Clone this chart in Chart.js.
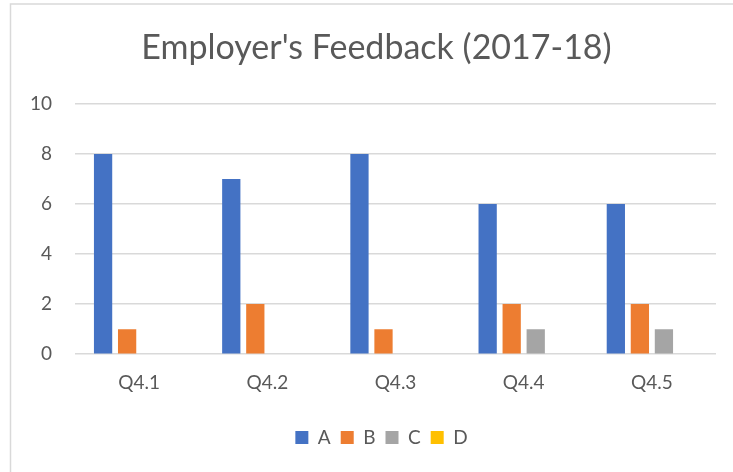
<!DOCTYPE html>
<html>
<head>
<meta charset="utf-8">
<script src="https://cdn.jsdelivr.net/npm/chart.js@4/dist/chart.umd.min.js"></script>
<style>
  html, body { margin: 0; padding: 0; background: #fff; }
  #wrap { position: absolute; left: 0; top: 0; width: 733px; height: 472px; }
</style>
</head>
<body>
<div id="wrap"><canvas id="c" width="733" height="472"></canvas></div>
<script>
const categories = ["Q4.1", "Q4.2", "Q4.3", "Q4.4", "Q4.5"];
const seriesNames = ["A", "B", "C", "D"];
const valuesA = [8, 7, 8, 6, 6];
const valuesB = [1, 2, 1, 2, 2];
const valuesC = [0, 0, 0, 1, 1];
const valuesD = [0, 0, 0, 0, 0];
const yTicks = [0, 2, 4, 6, 8, 10];
const titleText = "Employer's Feedback (2017-18)";

const colors = ["#4472C4", "#ED7D31", "#A5A5A5", "#FFC000"];
const allValues = [valuesA, valuesB, valuesC, valuesD];
const FONT = "Lato, 'Open Sans', sans-serif";
const TXT = "#595959";

const framePlugin = {
  id: 'frame',
  beforeDraw(chart) {
    const ctx = chart.ctx;
    ctx.save();
    ctx.fillStyle = '#ffffff';
    ctx.fillRect(0, 0, chart.width, chart.height);
    ctx.strokeStyle = '#d9d9d9';
    ctx.lineWidth = 1.5;
    ctx.beginPath();
    ctx.moveTo(10.5, chart.height);
    ctx.lineTo(10.5, 4);
    ctx.lineTo(chart.width, 4);
    ctx.stroke();
    ctx.restore();
  },
  afterLayout(chart) {
    // centre title and legend on the framed area like the original
    if (chart.titleBlock) { chart.titleBlock.left += 15; chart.titleBlock.right += 15; }
    if (chart.legend) {
      chart.legend.left += 20; chart.legend.right += 20;
      chart.legend.top += 15; chart.legend.bottom += 15;
    }
  }
};

new Chart(document.getElementById('c'), {
  type: 'bar',
  data: {
    labels: categories,
    datasets: seriesNames.map((n, i) => ({
      label: n,
      data: allValues[i],
      backgroundColor: colors[i],
      borderWidth: 0,
      categoryPercentage: 0.75,
      barPercentage: 0.76
    }))
  },
  options: {
    responsive: false,
    animation: false,
    devicePixelRatio: 1,
    layout: { padding: { left: 7, right: 17, top: 28, bottom: 30 } },
    plugins: {
      title: {
        display: true,
        text: titleText,
        color: TXT,
        font: { family: FONT, size: 34, weight: 'normal' },
        padding: { top: 0, bottom: 35 }
      },
      legend: {
        display: true,
        position: 'bottom',
        labels: {
          color: TXT,
          font: { family: FONT, size: 19 },
          boxWidth: 13,
          boxHeight: 13,
          padding: 10
        }
      },
      tooltip: { enabled: false }
    },
    scales: {
      x: {
        grid: { display: false },
        border: { display: false },
        ticks: { color: TXT, font: { family: FONT, size: 19 }, padding: 9 }
      },
      y: {
        min: 0,
        max: 10,
        afterBuildTicks(axis) { axis.ticks = yTicks.map(v => ({ value: v })); },
        grid: { color: '#d9d9d9', lineWidth: 1.5, drawTicks: false },
        border: { display: false },
        ticks: { color: TXT, font: { family: FONT, size: 19 }, padding: 23 }
      }
    }
  },
  plugins: [framePlugin]
});
</script>
</body>
</html>
